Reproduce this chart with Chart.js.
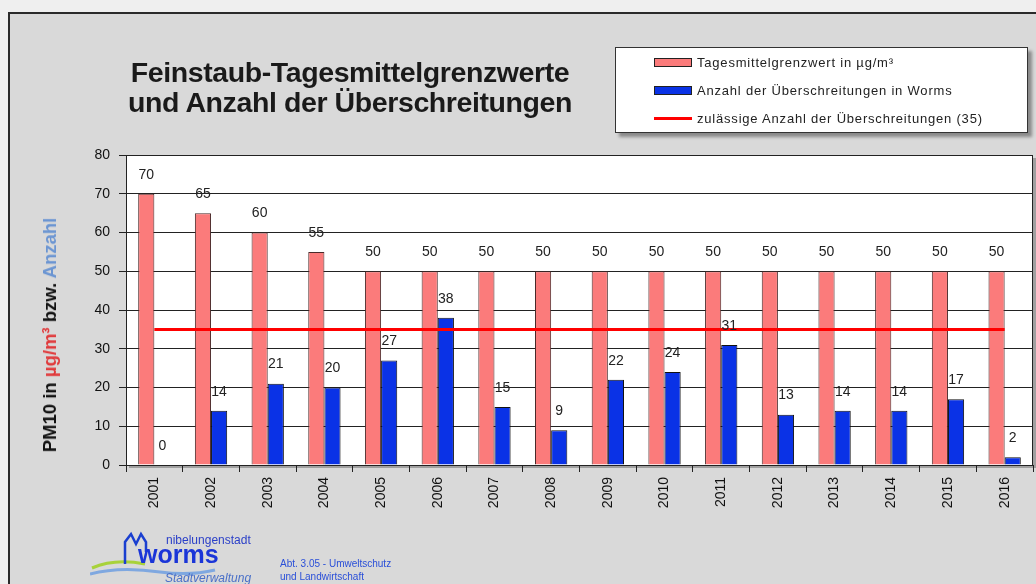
<!DOCTYPE html>
<html>
<head>
<meta charset="utf-8">
<script src="https://cdn.jsdelivr.net/npm/chart.js@4/dist/chart.umd.min.js"></script>
<style>
  html, body { margin: 0; padding: 0; }
  body { width: 1036px; height: 584px; overflow: hidden; background: #efefef; position: relative; font-family: "Liberation Sans", Arial, sans-serif; }
  .frame { position: absolute; left: 8px; top: 12px; width: 1100px; height: 700px; border: 2px solid #2a2a2a; background: #d9d9d9; box-sizing: border-box; }
  canvas { position: absolute; left: 0; top: 0; }
  .title { position: absolute; left: 50px; top: 57px; width: 600px; text-align: center; font-weight: bold; font-size: 28.5px; line-height: 30px; color: #1a1a1a; letter-spacing: -0.4px; }
  .ytitle { position: absolute; left: 50px; top: 335px; transform: translate(-50%, -50%) rotate(-90deg); white-space: nowrap; font-weight: bold; font-size: 18.5px; color: #111; }
  .legend { position: absolute; left: 615px; top: 47px; width: 413px; height: 86px; background: #fff; border: 1px solid #333; box-shadow: 4px 4px 3px #8a8a8a; box-sizing: border-box; font-size: 13px; letter-spacing: 0.8px; color: #222; }
  .legend .row { position: absolute; left: 38px; height: 16px; display: flex; align-items: center; white-space: nowrap; }
  .legend .sw { width: 36px; height: 7px; border: 1px solid #222; margin-right: 5px; }
  .legend .ln { width: 38px; height: 3px; margin-right: 5px; }
  .logo { position: absolute; left: 90px; top: 528px; width: 360px; height: 56px; }
</style>
</head>
<body>
<div class="frame"></div>
<canvas id="chart" width="1036" height="584"></canvas>
<div class="title">Feinstaub-Tagesmittelgrenzwerte<br>und Anzahl der Überschreitungen</div>
<div class="ytitle">PM10 in <span style="color:#e0393b">µg/m³</span> bzw. <span style="color:#6b95d2">Anzahl</span></div>
<div class="legend" id="legend"></div>
<div class="logo">
  <svg width="360" height="56" viewBox="0 0 360 56">
    <!-- swoosh + cathedral outline of the city logo -->
    <path d="M2 40 Q25 30 55 36" stroke="#a8d23a" stroke-width="3" fill="none"/>
    <path d="M0 46 Q30 38 70 44 Q100 48 125 42" stroke="#7fa8e0" stroke-width="3" fill="none"/>
    <path d="M35 36 L35 14 L41 6 L46 16 L51 6 L56 14 L56 24" stroke="#1a3fd0" stroke-width="2.5" fill="none"/>
    <text x="76" y="16" font-size="12" fill="#2a3fc8" font-family="Liberation Sans, Arial">nibelungenstadt</text>
    <text x="48" y="35" font-size="25" font-weight="bold" fill="#1a35d8" font-family="Liberation Sans, Arial">worms</text>
    <text x="75" y="54" font-size="12" font-style="italic" fill="#4a70c8" font-family="Liberation Sans, Arial">Stadtverwaltung</text>
    <text x="190" y="39" font-size="10" fill="#2a4fd8" font-family="Liberation Sans, Arial">Abt. 3.05 - Umweltschutz</text>
    <text x="190" y="52" font-size="10" fill="#2a4fd8" font-family="Liberation Sans, Arial">und Landwirtschaft</text>
  </svg>
</div>
<script>
// Jahre
const years = ['2001', '2002', '2003', '2004', '2005', '2006', '2007', '2008',
  '2009', '2010', '2011', '2012', '2013', '2014', '2015', '2016'];
// Tagesmittelgrenzwert in µg/m³
const limitValues = [70, 65, 60, 55, 50, 50, 50, 50, 50, 50, 50, 50, 50, 50, 50, 50];
// Anzahl der Überschreitungen in Worms
const exceedances = [0, 14, 21, 20, 27, 38, 15, 9, 22, 24, 31, 13, 14, 14, 17, 2];
// zulässige Anzahl der Überschreitungen
const allowed = years.map(() => 35);
const yTicks = [0, 10, 20, 30, 40, 50, 60, 70, 80];

const labels = {
  limit: 'Tagesmittelgrenzwert in µg/m³',
  count: 'Anzahl der Überschreitungen in Worms',
  allowed: 'zulässige Anzahl der Überschreitungen (35)'
};

const PINK = '#fb7b7b';
const BLUE = '#0a32e6';
const RED = '#ff0000';

// white plot area with shadow, and a frame on top
const plotArea = {
  id: 'plotArea',
  beforeDraw(chart) {
    const { ctx, chartArea: a } = chart;
    ctx.save();
    ctx.fillStyle = '#a0a0a0';
    ctx.fillRect(a.left + 3, a.top + 3, a.right - a.left, a.bottom - a.top);
    ctx.fillStyle = '#ffffff';
    ctx.fillRect(a.left, a.top, a.right - a.left, a.bottom - a.top);
    ctx.restore();
  },
  afterDraw(chart) {
    const { ctx, chartArea: a } = chart;
    ctx.save();
    ctx.strokeStyle = '#222';
    ctx.lineWidth = 1;
    ctx.strokeRect(a.left + 0.5, a.top + 0.5, a.right - a.left - 1, a.bottom - a.top);
    ctx.restore();
  }
};

// value labels above the bars
const valueLabels = {
  id: 'valueLabels',
  afterDatasetsDraw(chart) {
    const { ctx } = chart;
    ctx.save();
    ctx.font = '14px "Liberation Sans", Arial, sans-serif';
    ctx.fillStyle = '#222';
    ctx.textAlign = 'center';
    ctx.textBaseline = 'middle';
    chart.data.datasets.forEach((ds, i) => {
      if (ds.type !== 'bar') return;
      chart.getDatasetMeta(i).data.forEach((bar, j) => {
        ctx.fillText(String(ds.data[j]), bar.x, bar.y - 19);
      });
    });
    ctx.restore();
  }
};

const chart = new Chart(document.getElementById('chart'), {
  data: {
    labels: years,
    datasets: [
      {
        type: 'line',
        label: labels.allowed,
        data: allowed,
        borderColor: RED,
        borderWidth: 3,
        pointRadius: 0,
        order: 0
      },
      {
        type: 'bar',
        label: labels.limit,
        data: limitValues,
        backgroundColor: PINK,
        borderColor: '#4a2a2a',
        borderWidth: 1,
        categoryPercentage: 0.57,
        barPercentage: 1,
        order: 1
      },
      {
        type: 'bar',
        label: labels.count,
        data: exceedances,
        backgroundColor: BLUE,
        borderColor: '#111',
        borderWidth: 1,
        categoryPercentage: 0.57,
        barPercentage: 1,
        order: 1
      }
    ]
  },
  options: {
    responsive: false,
    animation: false,
    layout: { padding: { top: 155, right: 3, left: 0, bottom: 0 } },
    plugins: {
      legend: { display: false },
      tooltip: { enabled: false }
    },
    scales: {
      x: {
        offset: true,
        grid: { display: true, drawOnChartArea: false, color: '#222', tickLength: 7, offset: true },
        border: { color: '#222' },
        ticks: {
          color: '#111',
          font: { size: 14, family: '"Liberation Sans", Arial, sans-serif' },
          minRotation: 90,
          maxRotation: 90,
          padding: 5
        },
        afterFit: (s) => { s.height = 119; }
      },
      y: {
        min: 0,
        max: 80,
        afterBuildTicks: (s) => { s.ticks = yTicks.map(v => ({ value: v })); },
        grid: { color: '#222', lineWidth: 1, tickLength: 7 },
        border: { color: '#222' },
        ticks: {
          color: '#111',
          font: { size: 14, family: '"Liberation Sans", Arial, sans-serif' },
          padding: 9
        },
        afterFit: (s) => { s.width = 126; }
      }
    }
  },
  plugins: [plotArea, valueLabels]
});

// legend from the datasets
const legendEl = document.getElementById('legend');
const legendItems = [chart.data.datasets[1], chart.data.datasets[2], chart.data.datasets[0]];
legendItems.forEach((ds, i) => {
  const row = document.createElement('div');
  row.className = 'row';
  row.style.top = (6 + i * 28) + 'px';
  const mark = document.createElement('span');
  if (ds.type === 'line') {
    mark.className = 'ln';
    mark.style.background = ds.borderColor;
  } else {
    mark.className = 'sw';
    mark.style.background = ds.backgroundColor;
  }
  row.appendChild(mark);
  row.appendChild(document.createTextNode(ds.label));
  legendEl.appendChild(row);
});
</script>
</body>
</html>
